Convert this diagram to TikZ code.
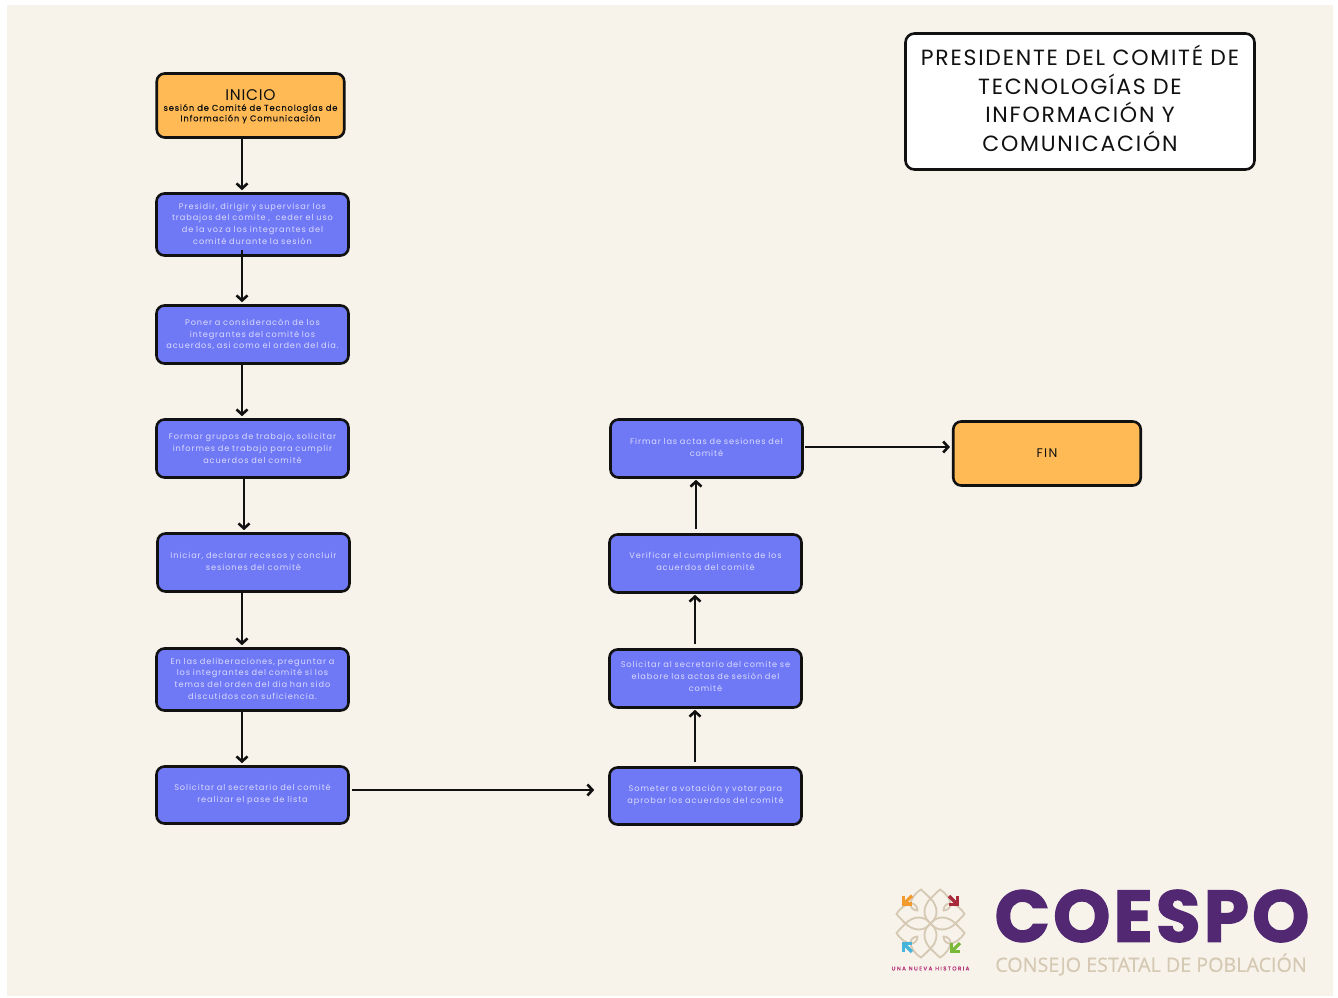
\documentclass[tikz,border=0pt]{standalone}
\usepackage{fontspec}
\usetikzlibrary{arrows.meta}
\setmainfont{Poppins}
\newfontfamily\boxfont[LetterSpace=11,WordSpace=1.25]{Poppins}
\newfontfamily\titlefont[LetterSpace=8]{Poppins}
\newfontfamily\startfont[LetterSpace=5]{Poppins}
\newfontfamily\subfont[LetterSpace=10,FakeBold=0.3]{Poppins}
\newfontfamily\histfont[LetterSpace=26,FakeBold=1]{Poppins}
\newfontfamily\coespofont[LetterSpace=4,FakeBold=1.6]{Poppins Bold}
\newfontfamily\consejofont[FakeBold=0.5]{Open Sans}
\definecolor{bgcream}{HTML}{F7F2EA}
\definecolor{boxblue}{HTML}{7079F5}
\definecolor{boxorange}{HTML}{FFBA55}
\definecolor{boxtext}{HTML}{D9DBFF}
\definecolor{edgeblack}{HTML}{111111}
\definecolor{logopurple}{HTML}{522873}
\definecolor{logosand}{HTML}{D5C9B3}
\definecolor{logomag}{HTML}{B5327A}
\definecolor{chorange}{HTML}{F39A2D}
\definecolor{chred}{HTML}{A82A3A}
\definecolor{chblue}{HTML}{45B5DC}
\definecolor{chgreen}{HTML}{7AB83A}
\newcommand{\liftby}[1]{\par\vspace{#1}}
\tikzset{
  basebox/.style={draw=edgeblack,line width=2.6pt,rounded corners=8pt,align=center,inner sep=0pt},
  bluebox/.style={basebox,fill=boxblue,text=boxtext,minimum width=192pt,text width=190pt,
    font=\boxfont\fontsize{8.2}{11.7}\selectfont},
  orangebox/.style={basebox,fill=boxorange,text=edgeblack,minimum width=187.5pt,minimum height=64pt},
  flow/.style={draw=edgeblack,line width=2.9pt,-{Straight Barb[length=5pt,width=11pt,line width=2.6pt]},shorten >=2pt},
  petal/.style={draw=logosand,line width=1.8pt,line cap=round},
  chevron/.style={line width=3.2pt,line cap=butt,line join=miter}
}
\newcommand{\chev}[4]{%
  \begin{scope}[shift={(#1,#2)},rotate=#3]
    \draw[chevron,draw=#4] (-4,0) -- (7,0);
    \draw[chevron,draw=#4] (1,-6) -- (-5,0) -- (1,6);
  \end{scope}}
\begin{document}
\begin{tikzpicture}[x=1pt,y=-1pt]
\useasboundingbox (0,0) rectangle (1338,998);
\fill[white] (0,0) rectangle (1338,998);
\fill[bgcream] (7,5) rectangle (1333,996);

% title
\node[basebox,fill=white,text=edgeblack,minimum width=349pt,minimum height=136pt,text width=345pt,rounded corners=9pt,
  font=\titlefont\fontsize{22}{28.5}\selectfont] (title) at (1080,101.5)
  {PRESIDENTE DEL COMITÉ DE\\TECNOLOGÍAS DE\\INFORMACIÓN Y\\COMUNICACIÓN\liftby{6pt}};

% left column
\node[orangebox] (inicio) at (250.5,105.5) {};
\node[text=edgeblack,font=\startfont\fontsize{15.5}{17}\selectfont,inner sep=0pt] (iniciot) at (250.5,95) {INICIO};
\node[align=center,text=edgeblack,inner sep=0pt,font=\subfont\fontsize{8.3}{10.5}\selectfont] (iniciosub) at (250.5,113.8)
  {sesión de Comité de Tecnologías de\\Información y Comunicación};
\node[bluebox,minimum height=62pt] (b1) at (252.5,224.5)
  {Presidir, dirigir y supervisar los\\trabajos del comite ,\ \ ceder el uso\\de la voz a los integrantes del\\comité durante la sesión\liftby{2pt}};
\node[bluebox,minimum height=58pt] (b2) at (252.5,334.5)
  {Poner a consideracón de los\\integrantes del comité los\\acuerdos, asi como el orden del dia.};
\node[bluebox,minimum height=58pt] (b3) at (252.5,448.5)
  {Formar grupos de trabajo, solicitar\\informes de trabajo para cumplir\\acuerdos del comité};
\node[bluebox,minimum height=58pt] (b4) at (253.5,562.5)
  {Iniciar, declarar recesos y concluir\\sesiones del comité\liftby{2pt}};
\node[bluebox,minimum height=62pt] (b5) at (252.5,679.5)
  {En las deliberaciones, preguntar a\\los integrantes del comité si los\\temas del orden del dia han sido\\discutidos con suficiencia.\liftby{2pt}};
\node[bluebox,minimum height=57pt] (b6) at (252.5,795)
  {Solicitar al secretario del comité\\realizar el pase de lista\liftby{2pt}};

% right column
\node[bluebox,minimum height=57pt] (r1) at (705.5,796)
  {Someter a votación y votar para\\aprobar los acuerdos del comité\liftby{2pt}};
\node[bluebox,minimum height=58pt] (r2) at (705.5,678.5)
  {Solicitar al secretario del comite se\\elabore las actas de sesión del\\comité\liftby{4pt}};
\node[bluebox,minimum height=58pt] (r3) at (705.5,563.5)
  {Verificar el cumplimiento de los\\acuerdos del comité\liftby{4pt}};
\node[bluebox,minimum height=58pt] (r4) at (706.5,448.5)
  {Firmar las actas de sesiones del\\comité\liftby{2pt}};
\node[orangebox,font=\boxfont\fontsize{12.5}{14}\selectfont] (fin) at (1047,453.5) {FIN};

% connector guides
\coordinate (xa) at (242,0);
\coordinate (xb) at (244,0);
\coordinate (xc) at (695,0);
\coordinate (xd) at (696,0);
\coordinate (ya) at (0,790);
\coordinate (yb) at (0,447);

\draw[flow] (inicio.south -| xa) -- (b1.north -| xa);
\draw[flow,shorten <=-7pt] (b1.south -| xa) -- (b2.north -| xa);
\draw[flow] (b2.south -| xa) -- (b3.north -| xa);
\draw[flow] (b3.south -| xb) -- (b4.north -| xb);
\draw[flow] (b4.south -| xa) -- (b5.north -| xa);
\draw[flow] (b5.south -| xa) -- (b6.north -| xa);
\draw[flow,shorten <=2pt,shorten >=14pt] (b6.east |- ya) -- (r1.west |- ya);
\draw[flow,shorten <=4pt,shorten >=1pt] (r1.north -| xc) -- (r2.south -| xc);
\draw[flow,shorten <=4pt,shorten >=1pt] (r2.north -| xc) -- (r3.south -| xc);
\draw[flow,shorten <=4pt,shorten >=1pt] (r3.north -| xd) -- (r4.south -| xd);
\draw[flow,shorten <=1pt] (r4.east |- yb) -- (fin.west |- yb);

% logo: flower
\begin{scope}[shift={(930.5,923.5)}]
  \foreach \a in {0,90,180,270}{
    \begin{scope}[rotate=\a]
      \draw[petal] (0,0) .. controls (6,8) and (17,8) .. (25,0) .. controls (17,-8) and (6,-8) .. (0,0);
      \draw[petal] (25,0) .. controls (28,3) and (31,6) .. (34,9.5) .. controls (30,16) and (24,20) .. (19,20)
         .. controls (16,20) and (13,17) .. (13,13);
      \draw[petal] (25,0) .. controls (28,-3) and (31,-6) .. (34,-9.5) .. controls (30,-16) and (24,-20) .. (19,-20)
         .. controls (16,-20) and (13,-17) .. (13,-13);
    \end{scope}
  }
\end{scope}
\chev{907}{900.5}{45}{chorange}
\chev{954}{901}{135}{chred}
\chev{907}{947}{-45}{chblue}
\chev{955}{948}{45}{chgreen}

\node[inner sep=0pt,text=logomag,font=\histfont\fontsize{5.5}{6}\selectfont,anchor=center] (historia) at (930.5,968.5)
  {UNA NUEVA HISTORIA};
\node[inner sep=0pt,text=logopurple,font=\coespofont\fontsize{73}{73}\selectfont,anchor=center] (coespo) at (1152,916) {COESPO};
\node[inner sep=0pt,text=logosand,font=\consejofont\fontsize{19.7}{20}\selectfont,anchor=center] (consejo) at (1151,964.5) {CONSEJO ESTATAL DE POBLACIÓN};
\end{tikzpicture}
\end{document}
